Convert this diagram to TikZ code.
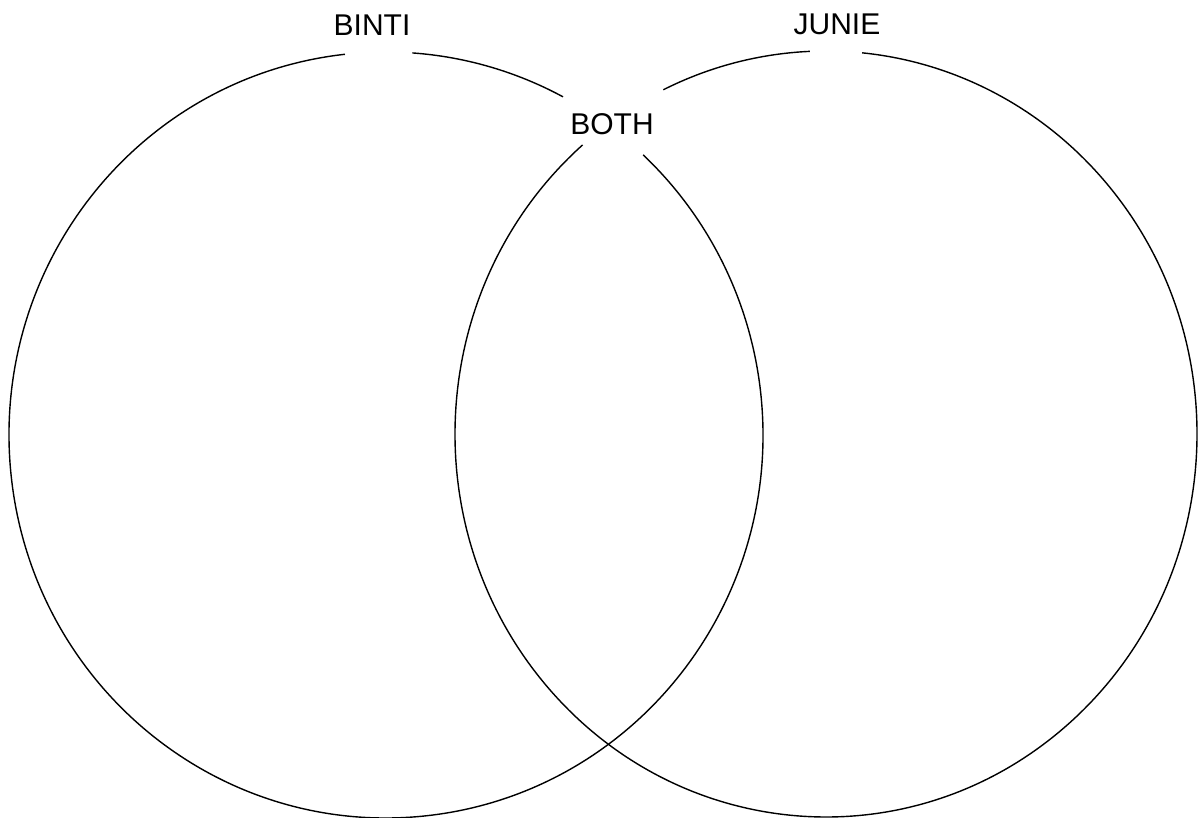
\documentclass[tikz,border=0pt]{standalone}
\usepackage{fontspec}
\setmainfont{Liberation Sans}
\begin{document}
\begin{tikzpicture}[x=1pt,y=1pt,
  ring/.style={line width=1.4pt,black},
  lbl/.style={anchor=base,inner sep=0pt,font=\fontsize{30}{36}\selectfont}]
\useasboundingbox[fill=white] (0,0) rectangle (1199,818);
\coordinate (cL) at (386,383);
\coordinate (cR) at (826,384);
% left ellipse (rx 377, ry 383) with gaps for BINTI and BOTH
\draw[ring] ([shift={(62:377 and 383)}]cL) arc[start angle=62,end angle=86,x radius=377,y radius=383];
\draw[ring] ([shift={(96.25:377 and 383)}]cL) arc[start angle=96.25,end angle=407,x radius=377,y radius=383];
% right ellipse (rx 371, ry 383) with gaps for JUNIE and BOTH
\draw[ring] ([shift={(92.5:371 and 383)}]cR) arc[start angle=92.5,end angle=116,x radius=371,y radius=383];
\draw[ring] ([shift={(131:371 and 383)}]cR) arc[start angle=131,end angle=444.4,x radius=371,y radius=383];
\node[lbl] (binti) at (372,782) {BINTI};
\node[lbl] (junie) at (837,783) {JUNIE};
\node[lbl] (both) at (612,683) {BOTH};
\end{tikzpicture}
\end{document}
